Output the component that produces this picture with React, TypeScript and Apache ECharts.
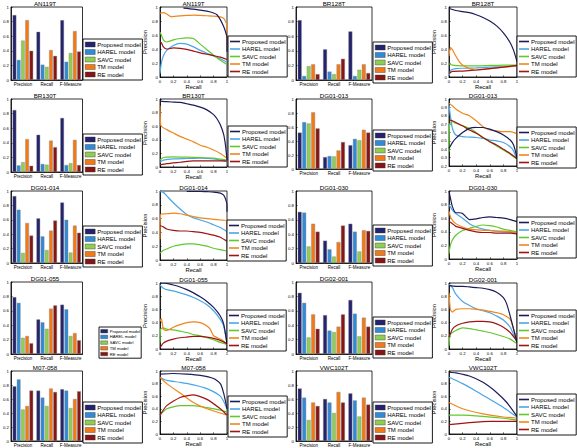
import React, { useEffect, useRef } from "react";
import * as echarts from "echarts";

const FONT = "Liberation Sans, Arial, Helvetica, sans-serif";
const MODELS = ["Proposed model", "HAREL model", "SAVC model", "TM model", "RE model"];
const METRICS = ["Precision", "Recall", "F-Measure"];
const BAR_COLORS = ["#23236e", "#2f8ad8", "#8fce55", "#f27a16", "#861616"];
const LINE_COLORS = ["#1c1c5a", "#4aa6e6", "#62c82e", "#f0861c", "#9e1414"];

// ---- bar values: per model [Precision, Recall, F-Measure]
const AN119T_BAR = [[0.89, 0.66, 0.82], [0.275, 0.21, 0.25], [0.54, 0.18, 0.37], [0.82, 0.41, 0.67], [0.40, 0.33, 0.39]];
const BR128T_BAR = [[0.82, 0.42, 0.665], [0.055, 0.115, 0.055], [0.19, 0.08, 0.14], [0.215, 0.215, 0.215], [0.08, 0.29, 0.095]];
const BR130T_BAR = [[0.85, 0.51, 0.74], [0.09, 0.11, 0.095], [0.135, 0.10, 0.12], [0.45, 0.43, 0.44], [0.085, 0.34, 0.095]];
const DG01_013_BAR = [[0.52, 0.17, 0.34], [0.67, 0.185, 0.43], [0.65, 0.18, 0.41], [0.81, 0.265, 0.56], [0.58, 0.385, 0.52]];
const DG01_014_BAR = [[0.93, 0.62, 0.84], [0.74, 0.37, 0.60], [0.14, 0.18, 0.145], [0.555, 0.45, 0.52], [0.38, 0.59, 0.42]];
const DG01_030_BAR = [[0.71, 0.31, 0.545], [0.70, 0.19, 0.435], [0.23, 0.09, 0.16], [0.545, 0.29, 0.455], [0.435, 0.52, 0.445]];
const DG01_055_BAR = [[0.79, 0.48, 0.685], [0.71, 0.44, 0.62], [0.225, 0.35, 0.25], [0.25, 0.63, 0.29], [0.15, 0.675, 0.19]];
const DG02_001_BAR = [[0.85, 0.54, 0.75], [0.71, 0.325, 0.56], [0.23, 0.305, 0.245], [0.55, 0.38, 0.505], [0.35, 0.55, 0.38]];
const M07_058_BAR = [[0.78, 0.72, 0.74], [0.88, 0.62, 0.72], [0.45, 0.5, 0.47], [0.5, 0.75, 0.6], [0.72, 0.7, 0.71]];
const VWC102T_BAR = [[0.75, 0.6, 0.68], [0.62, 0.55, 0.58], [0.3, 0.4, 0.35], [0.55, 0.7, 0.62], [0.5, 0.55, 0.52]];

// ---- precision/recall curves: [recall, precision] points, order = MODELS
const AN119T_PR = [
  [[0.35, 0.985], [0.5, 0.97], [0.6, 0.955], [0.7, 0.94], [0.8, 0.915], [0.85, 0.89], [0.9, 0.82], [0.95, 0.72], [0.98, 0.64], [1, 0.56], [1, 0.36]],
  [[0, 0.05], [0.02, 0.2], [0.05, 0.3], [0.1, 0.38], [0.2, 0.45], [0.3, 0.48], [0.4, 0.47], [0.5, 0.43], [0.6, 0.38], [0.7, 0.34], [0.8, 0.3], [0.9, 0.26], [1, 0.21]],
  [[0, 0.64], [0.02, 0.6], [0.05, 0.53], [0.1, 0.5], [0.2, 0.53], [0.3, 0.55], [0.4, 0.56], [0.5, 0.55], [0.6, 0.47], [0.7, 0.39], [0.8, 0.31], [0.9, 0.24], [1, 0.18]],
  [[0, 0.91], [0.05, 0.92], [0.1, 0.9], [0.17, 0.86], [0.25, 0.87], [0.4, 0.88], [0.5, 0.885], [0.6, 0.88], [0.7, 0.875], [0.8, 0.87], [0.9, 0.86], [0.95, 0.84], [0.98, 0.79], [1, 0.74], [1, 0.5]],
  [[0, 0.5], [0.02, 0.49], [0.05, 0.43], [0.1, 0.4], [0.2, 0.415], [0.3, 0.41], [0.4, 0.395], [0.5, 0.37], [0.6, 0.345], [0.7, 0.325], [0.8, 0.305], [0.9, 0.285], [1, 0.25]],
];
const BR128T_PR = [
  [[0, 0.98], [0.05, 0.965], [0.1, 0.95], [0.2, 0.935], [0.3, 0.92], [0.4, 0.89], [0.5, 0.85], [0.6, 0.8], [0.7, 0.73], [0.8, 0.63], [0.9, 0.49], [0.95, 0.38], [1, 0.22]],
  [[0, 0.02], [0.03, 0.1], [0.1, 0.12], [0.2, 0.125], [0.4, 0.13], [0.6, 0.14], [0.8, 0.15], [1, 0.16]],
  [[0, 0.19], [0.05, 0.17], [0.2, 0.16], [0.4, 0.16], [0.6, 0.165], [0.8, 0.17], [1, 0.17]],
  [[0, 0.3], [0.02, 0.42], [0.05, 0.39], [0.1, 0.3], [0.15, 0.22], [0.2, 0.17], [0.3, 0.12], [0.4, 0.1], [0.6, 0.12], [0.8, 0.14], [1, 0.16]],
  [[0, 0.05], [0.05, 0.08], [0.2, 0.085], [0.4, 0.1], [0.6, 0.12], [0.8, 0.14], [1, 0.165]],
];
const BR130T_PR = [
  [[0, 0.97], [0.1, 0.96], [0.2, 0.955], [0.3, 0.95], [0.4, 0.93], [0.5, 0.91], [0.6, 0.88], [0.7, 0.84], [0.8, 0.77], [0.85, 0.71], [0.9, 0.62], [0.95, 0.48], [0.98, 0.3], [1, 0.1]],
  [[0, 0.07], [0.05, 0.1], [0.2, 0.12], [0.4, 0.125], [0.6, 0.13], [0.8, 0.12], [1, 0.08]],
  [[0, 0.1], [0.05, 0.14], [0.2, 0.15], [0.4, 0.145], [0.6, 0.14], [0.8, 0.13], [1, 0.1]],
  [[0, 0.9], [0.01, 0.62], [0.03, 0.59], [0.1, 0.55], [0.2, 0.5], [0.3, 0.45], [0.4, 0.41], [0.5, 0.37], [0.6, 0.32], [0.7, 0.29], [0.8, 0.25], [0.9, 0.2], [1, 0.13]],
  [[0, 0.03], [0.1, 0.05], [0.3, 0.07], [0.5, 0.09], [0.7, 0.09], [0.9, 0.09], [1, 0.09]],
];
const DG01_013_PR = [
  [[0, 0.41], [0.05, 0.48], [0.1, 0.53], [0.2, 0.6], [0.3, 0.65], [0.4, 0.66], [0.5, 0.66], [0.6, 0.64], [0.7, 0.61], [0.8, 0.57], [0.9, 0.51], [0.95, 0.45], [1, 0.3]],
  [[0, 0.93], [0.02, 0.8], [0.05, 0.65], [0.1, 0.57], [0.2, 0.55], [0.3, 0.545], [0.4, 0.54], [0.5, 0.53], [0.6, 0.51], [0.7, 0.5], [0.8, 0.48], [0.9, 0.43], [0.95, 0.38], [1, 0.27]],
  [[0, 0.37], [0.01, 0.7], [0.05, 0.73], [0.1, 0.71], [0.2, 0.68], [0.3, 0.65], [0.4, 0.6], [0.5, 0.54], [0.6, 0.49], [0.7, 0.44], [0.8, 0.39], [0.9, 0.34], [1, 0.28]],
  [[0, 0.95], [0.05, 0.92], [0.1, 0.88], [0.2, 0.83], [0.3, 0.8], [0.4, 0.74], [0.5, 0.67], [0.6, 0.63], [0.7, 0.62], [0.8, 0.61], [0.9, 0.61], [0.95, 0.6], [1, 0.58], [1, 0.45]],
  [[0, 0.75], [0.05, 0.74], [0.1, 0.72], [0.2, 0.68], [0.3, 0.63], [0.4, 0.59], [0.5, 0.54], [0.6, 0.49], [0.7, 0.45], [0.8, 0.4], [0.9, 0.35], [1, 0.29]],
];
const DG01_014_PR = [
  [[0.4, 0.995], [0.6, 0.995], [0.7, 0.99], [0.8, 0.985], [0.9, 0.97], [0.95, 0.94], [0.98, 0.88], [1, 0.8], [1, 0.7]],
  [[0, 0.99], [0.05, 0.98], [0.1, 0.93], [0.2, 0.83], [0.3, 0.74], [0.4, 0.66], [0.5, 0.61], [0.6, 0.58], [0.7, 0.55], [0.8, 0.51], [0.9, 0.47], [1, 0.41]],
  [[0, 0.1], [0.05, 0.14], [0.1, 0.16], [0.2, 0.2], [0.3, 0.22], [0.4, 0.235], [0.5, 0.235], [0.6, 0.22], [0.7, 0.2], [0.8, 0.17], [0.9, 0.15], [1, 0.13]],
  [[0, 0.3], [0.01, 0.66], [0.1, 0.67], [0.2, 0.68], [0.3, 0.67], [0.4, 0.65], [0.5, 0.63], [0.6, 0.61], [0.7, 0.6], [0.8, 0.59], [0.9, 0.58], [1, 0.57], [1, 0.45]],
  [[0, 0.5], [0.05, 0.48], [0.1, 0.45], [0.2, 0.43], [0.3, 0.42], [0.4, 0.42], [0.5, 0.41], [0.6, 0.4], [0.7, 0.38], [0.8, 0.36], [0.9, 0.33], [1, 0.27]],
];
const DG01_030_PR = [
  [[0, 1.0], [0.02, 0.9], [0.05, 0.77], [0.1, 0.68], [0.15, 0.68], [0.2, 0.67], [0.25, 0.62], [0.3, 0.58], [0.4, 0.59], [0.5, 0.61], [0.6, 0.62], [0.7, 0.61], [0.8, 0.6], [0.9, 0.58], [1, 0.55]],
  [[0, 0.8], [0.05, 0.72], [0.1, 0.67], [0.2, 0.6], [0.3, 0.52], [0.4, 0.47], [0.5, 0.44], [0.6, 0.42], [0.7, 0.41], [0.8, 0.4], [0.9, 0.4], [1, 0.39]],
  [[0, 0.08], [0.02, 0.2], [0.05, 0.28], [0.1, 0.35], [0.2, 0.42], [0.3, 0.45], [0.4, 0.48], [0.5, 0.5], [0.6, 0.49], [0.7, 0.47], [0.8, 0.44], [0.9, 0.42], [1, 0.4]],
  [[0, 0.7], [0.03, 0.6], [0.1, 0.52], [0.2, 0.47], [0.3, 0.44], [0.4, 0.43], [0.5, 0.42], [0.6, 0.42], [0.7, 0.41], [0.8, 0.41], [0.9, 0.4], [1, 0.39]],
  [[0, 0.55], [0.05, 0.52], [0.1, 0.48], [0.2, 0.45], [0.3, 0.42], [0.4, 0.4], [0.5, 0.39], [0.6, 0.39], [0.7, 0.38], [0.8, 0.38], [0.9, 0.38], [1, 0.37]],
];
const DG01_055_PR = [
  [[0, 1.0], [0.1, 0.995], [0.2, 0.97], [0.3, 0.94], [0.4, 0.9], [0.5, 0.85], [0.6, 0.79], [0.7, 0.72], [0.8, 0.63], [0.9, 0.5], [0.95, 0.38], [1, 0.08]],
  [[0, 0.97], [0.05, 0.92], [0.1, 0.9], [0.2, 0.88], [0.3, 0.85], [0.4, 0.82], [0.5, 0.78], [0.6, 0.73], [0.7, 0.67], [0.8, 0.58], [0.9, 0.45], [0.95, 0.35], [1, 0.08]],
  [[0, 0.1], [0.01, 0.3], [0.05, 0.32], [0.1, 0.3], [0.2, 0.29], [0.3, 0.27], [0.4, 0.25], [0.5, 0.22], [0.6, 0.2], [0.7, 0.17], [0.8, 0.14], [0.9, 0.1], [1, 0.07]],
  [[0, 0.42], [0.02, 0.46], [0.05, 0.3], [0.1, 0.28], [0.15, 0.3], [0.2, 0.33], [0.3, 0.37], [0.4, 0.4], [0.5, 0.41], [0.6, 0.4], [0.7, 0.35], [0.75, 0.3], [0.8, 0.2], [0.9, 0.15], [1, 0.08]],
  [[0, 0.02], [0.05, 0.09], [0.1, 0.12], [0.2, 0.15], [0.3, 0.17], [0.4, 0.18], [0.5, 0.19], [0.6, 0.19], [0.7, 0.18], [0.8, 0.16], [0.9, 0.13], [1, 0.08]],
];
const DG02_001_PR = [
  [[0, 0.96], [0.1, 0.95], [0.2, 0.95], [0.3, 0.94], [0.4, 0.93], [0.5, 0.92], [0.6, 0.9], [0.7, 0.86], [0.8, 0.78], [0.85, 0.68], [0.9, 0.5], [0.95, 0.3], [1, 0.1]],
  [[0, 0.98], [0.05, 0.93], [0.1, 0.83], [0.2, 0.72], [0.3, 0.66], [0.4, 0.61], [0.5, 0.58], [0.6, 0.55], [0.7, 0.5], [0.8, 0.44], [0.9, 0.33], [0.95, 0.22], [1, 0.1]],
  [[0, 0.05], [0.02, 0.22], [0.1, 0.28], [0.2, 0.32], [0.3, 0.31], [0.4, 0.29], [0.5, 0.27], [0.6, 0.25], [0.7, 0.22], [0.8, 0.19], [0.9, 0.15], [1, 0.08]],
  [[0, 0.85], [0.02, 0.6], [0.05, 0.56], [0.1, 0.6], [0.2, 0.61], [0.3, 0.61], [0.4, 0.6], [0.5, 0.59], [0.6, 0.57], [0.7, 0.55], [0.8, 0.52], [0.9, 0.45], [0.95, 0.3], [1, 0.12]],
  [[0, 0.18], [0.05, 0.3], [0.1, 0.35], [0.2, 0.39], [0.3, 0.41], [0.4, 0.42], [0.5, 0.42], [0.6, 0.41], [0.7, 0.38], [0.8, 0.33], [0.9, 0.25], [1, 0.12]],
];
const M07_058_PR = [
  [[0, 0.95], [0.2, 0.96], [0.4, 0.95], [0.6, 0.93], [0.8, 0.88], [0.9, 0.8], [0.95, 0.65], [1, 0.4]],
  [[0, 0.9], [0.1, 0.85], [0.3, 0.82], [0.5, 0.78], [0.7, 0.72], [0.9, 0.6], [1, 0.4]],
  [[0, 0.3], [0.1, 0.4], [0.3, 0.45], [0.5, 0.45], [0.7, 0.42], [0.9, 0.38], [1, 0.35]],
  [[0, 0.9], [0.1, 0.8], [0.3, 0.65], [0.5, 0.5], [0.7, 0.4], [0.85, 0.35], [1, 0.3]],
  [[0, 0.3], [0.1, 0.45], [0.3, 0.58], [0.5, 0.62], [0.7, 0.55], [0.9, 0.4], [1, 0.3]],
];
const VWC102T_PR = [
  [[0, 0.98], [0.1, 0.97], [0.3, 0.92], [0.5, 0.82], [0.7, 0.66], [0.85, 0.5], [1, 0.28]],
  [[0, 0.9], [0.2, 0.8], [0.4, 0.68], [0.6, 0.55], [0.8, 0.42], [1, 0.27]],
  [[0, 0.3], [0.2, 0.3], [0.5, 0.28], [0.8, 0.25], [1, 0.22]],
  [[0, 0.5], [0.2, 0.4], [0.5, 0.32], [0.8, 0.27], [1, 0.25]],
  [[0, 0.15], [0.3, 0.18], [0.6, 0.2], [1, 0.2]],
];

// ---- layout (left, top, width, height) and legend (left, top)
type Panel = {
  kind: "bar" | "pr";
  title: string;
  bars?: number[][];
  curves?: number[][][];
  rect: number[];
  legend: number[];
  yMin?: number;
  yInt?: number;
  small?: boolean;
};

const PANELS: Panel[] = [
  { kind: "bar", title: "AN119T", bars: AN119T_BAR, rect: [7.5, 7, 75, 73], legend: [83, 39] },
  { kind: "pr", title: "AN119T", curves: AN119T_PR, rect: [160, 7, 67, 70], legend: [228, 36] },
  { kind: "bar", title: "BR128T", bars: BR128T_BAR, rect: [296, 7, 76, 73], legend: [373, 42] },
  { kind: "pr", title: "BR128T", curves: BR128T_PR, rect: [449, 7, 68, 70], legend: [517, 36] },

  { kind: "bar", title: "BR130T", bars: BR130T_BAR, rect: [7.5, 99, 75, 73], legend: [83, 134] },
  { kind: "pr", title: "BR130T", curves: BR130T_PR, rect: [160, 99, 67, 68], legend: [228, 126] },
  { kind: "bar", title: "DG01-013", bars: DG01_013_BAR, rect: [296, 99, 76, 70], legend: [373, 130] },
  { kind: "pr", title: "DG01-013", curves: DG01_013_PR, rect: [449, 99, 68, 67], legend: [517, 127], yMin: 0.2, yInt: 0.1 },

  { kind: "bar", title: "DG01-014", bars: DG01_014_BAR, rect: [7.5, 191, 75, 72], legend: [83, 226] },
  { kind: "pr", title: "DG01-014", curves: DG01_014_PR, rect: [160, 191, 67, 69], legend: [227, 220] },
  { kind: "bar", title: "DG01-030", bars: DG01_030_BAR, rect: [296, 191, 76, 72], legend: [373, 225] },
  { kind: "pr", title: "DG01-030", curves: DG01_030_PR, rect: [449, 191, 68, 68], legend: [517, 217] },

  { kind: "bar", title: "DG01-055", bars: DG01_055_BAR, rect: [7.5, 282, 75, 72], legend: [99, 327], small: true },
  { kind: "pr", title: "DG01-055", curves: DG01_055_PR, rect: [160, 283, 67, 66], legend: [227, 310] },
  { kind: "bar", title: "DG02-001", bars: DG02_001_BAR, rect: [296, 282, 76, 72], legend: [373, 317] },
  { kind: "pr", title: "DG02-001", curves: DG02_001_PR, rect: [449, 283, 68, 66], legend: [517, 310] },

  { kind: "bar", title: "M07-058", bars: M07_058_BAR, rect: [7.5, 371, 75, 71], legend: [83, 402] },
  { kind: "pr", title: "M07-058", curves: M07_058_PR, rect: [160, 371, 67, 66], legend: [228, 396] },
  { kind: "bar", title: "VWC102T", bars: VWC102T_BAR, rect: [296, 371, 76, 71], legend: [373, 402] },
  { kind: "pr", title: "VWC102T", curves: VWC102T_PR, rect: [449, 371, 68, 66], legend: [517, 394] },
];

function buildOption() {
  const grid: any[] = [];
  const xAxis: any[] = [];
  const yAxis: any[] = [];
  const series: any[] = [];
  const legend: any[] = [];
  const graphic: any[] = [];

  PANELS.forEach((p, i) => {
    const [l, t, w, h] = p.rect;
    grid.push({ left: l, top: t, width: w, height: h, show: true, borderColor: "#000", borderWidth: 0.8, backgroundColor: "#fff", containLabel: false });
    const tickLabel = { fontSize: 4.3, fontFamily: FONT, color: "#000", margin: 2 };
    const axisLine = { show: true, lineStyle: { color: "#000", width: 0.8 } };
    const axisTick = { show: true, inside: true, length: 1.8, lineStyle: { color: "#000", width: 0.5 } };
    if (p.kind === "bar") {
      xAxis.push({ type: "category", gridIndex: i, data: METRICS, axisLine, axisTick: { ...axisTick, alignWithLabel: true }, axisLabel: { ...tickLabel, fontSize: 4.5, interval: 0 }, splitLine: { show: false } });
    } else {
      xAxis.push({ type: "value", gridIndex: i, min: 0, max: 1, interval: 0.2, axisLine, axisTick, axisLabel: tickLabel, splitLine: { show: false }, name: "Recall", nameLocation: "middle", nameGap: 7, nameTextStyle: { fontSize: 5.8, fontFamily: FONT, color: "#000" } });
    }
    const yMin = p.yMin ?? 0;
    const yInt = p.yInt ?? 0.2;
    yAxis.push({
      type: "value", gridIndex: i, min: yMin, max: 1, interval: yInt, axisLine, axisTick, axisLabel: tickLabel, splitLine: { show: false },
      ...(p.kind === "pr" ? { name: "Precision", nameLocation: "middle", nameGap: 9, nameRotate: 90, nameTextStyle: { fontSize: 5.8, fontFamily: FONT, color: "#000" } } : {}),
    });

    if (p.kind === "bar") {
      p.bars!.forEach((vals, m) => {
        series.push({
          type: "bar", name: MODELS[m], xAxisIndex: i, yAxisIndex: i, data: vals,
          barGap: "15%", barCategoryGap: "14%",
          itemStyle: { color: BAR_COLORS[m], borderColor: "#888", borderWidth: 0.4 },
          emphasis: { disabled: true },
        });
      });
    } else {
      p.curves!.forEach((pts, m) => {
        series.push({
          type: "line", name: MODELS[m], xAxisIndex: i, yAxisIndex: i, data: pts,
          showSymbol: false, symbol: "none", smooth: 0.2, clip: true,
          lineStyle: { color: LINE_COLORS[m], width: 1.2 },
          itemStyle: { color: LINE_COLORS[m] },
          z: 3 + (m === 0 ? 1 : 0),
          emphasis: { disabled: true },
        });
      });
    }

    const small = !!p.small;
    const isPr = p.kind === "pr";
    legend.push({
      left: p.legend[0], top: p.legend[1], orient: "vertical",
      itemWidth: small ? 7 : 10, itemHeight: isPr ? 1.6 : small ? 3.5 : 5,
      itemGap: small ? 0.3 : 0.5,
      padding: small ? [1.5, 1, 1.5, 1.5] : [2, 1.5, 2, 2],
      backgroundColor: "#fff", borderColor: "#000", borderWidth: 0.9, borderRadius: 0,
      icon: "rect", selectedMode: false, z: 20,
      textStyle: { fontSize: small ? 4.2 : 6, lineHeight: small ? 5.4 : 7, fontFamily: FONT, color: "#000", padding: [0, 0, 0, small ? -3 : -3] },
      data: MODELS.map((n, m) => ({
        name: n,
        icon: "rect",
        itemStyle: { color: isPr ? LINE_COLORS[m] : BAR_COLORS[m], borderColor: "#333", borderWidth: isPr ? 0 : 0.4 },
      })),
    });

    graphic.push({
      type: "text", x: l + w / 2, y: t - 4, z: 30,
      style: { text: p.title, fontSize: 6.2, fontFamily: FONT, fill: "#000", align: "center", verticalAlign: "middle" },
    });
  });

  return { animation: false, backgroundColor: "#fff", grid, xAxis, yAxis, series, legend, graphic };
}

export default function App() {
  const ref = useRef<HTMLDivElement>(null);
  useEffect(() => {
    document.body.style.margin = "0";
    const chart = echarts.init(ref.current!, undefined, { renderer: "svg" });
    chart.setOption(buildOption() as any);
    return () => chart.dispose();
  }, []);
  return <div ref={ref} style={{ position: "fixed", left: 0, top: 0, width: 577, height: 448, background: "#fff" }} />;
}
